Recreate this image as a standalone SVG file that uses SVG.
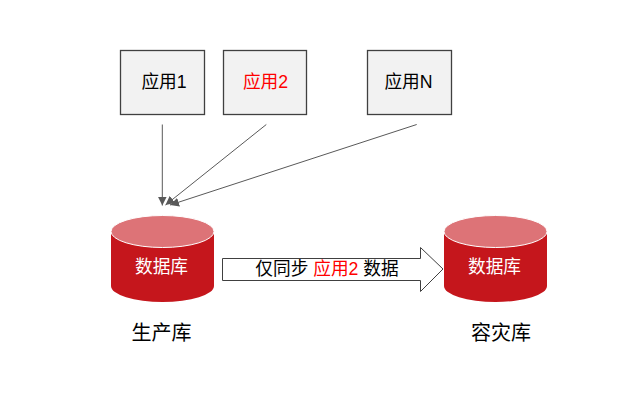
<svg xmlns="http://www.w3.org/2000/svg" width="642" height="409" viewBox="0 0 642 409">
<style>
text{font-family:"Liberation Sans","Noto Sans CJK SC",sans-serif;font-size:17.7px;text-anchor:middle}
.box{fill:#f2f2f2;stroke:#404040;stroke-width:1.3}
.body{fill:#c5161c}
.top{fill:#dd7377;stroke:#fff;stroke-width:1}
.w{fill:#fff}
.r{fill:#ff0000}
.conn{stroke:#595959;stroke-width:1;fill:none;marker-end:url(#a)}
</style>
<defs>
<marker id="a" markerUnits="userSpaceOnUse" markerWidth="10" markerHeight="9" refX="9" refY="4.500" orient="auto">
<path d="M0 0L9 4.500L0 9z" fill="#595959"/>
</marker>
</defs>
<rect width="642" height="409" fill="#fff"/>
<g id="connectors">
<path class="conn" d="M162.300 124.500V205.500"/>
<path class="conn" d="M266.300 124.500L165.500 205"/>
<path class="conn" d="M416.700 124.500L170 205"/>
</g>
<g id="app1"><rect class="box" x="120.500" y="50.500" width="84" height="64"/><text x="164" y="88">应用1</text></g>
<g id="app2"><rect class="box" x="223.500" y="50.500" width="83" height="64"/><text class="r" x="265.500" y="88">应用2</text></g>
<g id="appN"><rect class="box" x="367.500" y="50.500" width="84" height="64"/><text x="408.500" y="88">应用N</text></g>
<g id="db-prod">
<path class="body" d="M111 231.500V286A51.500 16 0 0 0 214 286V231.500z"/>
<ellipse class="top" cx="162.500" cy="231.500" rx="51.500" ry="16"/>
<text class="w" x="161.500" y="273">数据库</text>
</g>
<g id="db-dr">
<path class="body" d="M444 231.500V286A51.500 16 0 0 0 547 286V231.500z"/>
<ellipse class="top" cx="495.500" cy="231.500" rx="51.500" ry="16"/>
<text class="w" x="494.500" y="273">数据库</text>
</g>
<g id="sync">
<path d="M222.500 258.500H420.500V247.500L443 269L420.500 291.500V280.500H222.500z" fill="#fff" stroke="#404040" stroke-width="1"/>
<text x="327" y="275">仅同步 <tspan class="r">应用2</tspan> 数据</text>
</g>
<g id="label-prod"><text x="161.500" y="340" style="font-size:20px">生产库</text></g>
<g id="label-dr"><text x="501" y="340" style="font-size:20px">容灾库</text></g>
</svg>
